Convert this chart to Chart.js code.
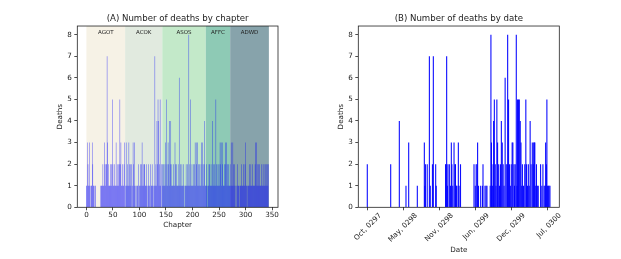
<!DOCTYPE html>
<html>
<head>
<meta charset="utf-8">
<script src="https://cdn.jsdelivr.net/npm/chart.js@4.4.1/dist/chart.umd.min.js"></script>
<style>
  html, body { margin: 0; padding: 0; background: #fff; }
  #wrap { position: relative; width: 621px; height: 259px; }
  canvas { position: absolute; top: 0; }
</style>
</head>
<body>
<div id="wrap">
  <canvas id="byChapter" width="300" height="259" style="left:0"></canvas>
  <canvas id="byDate" width="300" height="259" style="left:300px"></canvas>
</div>
<script>
// ---- data: deaths per chapter, one array per book ----
const books = ["AGOT", "ACOK", "ASOS", "AFFC", "ADWD"];
const agotDeaths = [
  1,1,3,2,1,1,3,1,0,1, 1,3,2,1,1,0,1,1,0,0, 0,0,0,0,0,0,0,1,1,1,
  1,2,1,1,3,2,1,2,2,7, 3,1,2,1,1,2,1,2,1,5, 2,1,1,2,1,1,3,1,2,1,
  2,1,2,5,2,3,1,1,2,1, 1,2,3
];
const acokDeaths = [
  0,1,3,1,2,1,1,3,2,1, 2,1,2,0,1,3,2,1,3,1, 0,1,0,1,1,2,0,1,1,2,
  1,2,3,1,2,1,2,2,1,1, 2,1,0,1,2,1,1,0,2,1, 1,2,1,1,0,1,7,1,2,1,
  4,2,5,4,1,2,5,1,2,0
];
const asosDeaths = [
  2,1,2,1,1,2,3,1,5,2, 1,3,2,1,4,2,4,1,2,1, 1,2,1,1,3,2,1,2,1,1,
  2,1,6,1,2,1,1,2,1,1, 2,1,0,1,1,2,1,1,2,1, 8,1,2,5,1,1,2,1,1,2,
  1,2,3,1,3,2,3,1,2,1, 2,1,1,2,3,1,3,2,1,2,4,1
];
const affcDeaths = [
  1,2,1,0,1,1,2,2,1,1, 2,1,1,4,2,1,2,1,1,5, 2,1,1,2,1,2,1,3,2,3,
  1,3,2,1,1,2,1,3,2,3, 1,2,1,2,1,1
];
const adwdDeaths = [
  2,1,3,1,1,3,2,1,2,1, 0,1,0,1,2,1,1,1,0,1, 1,2,1,1,1,2,1,1,2,3,
  1,1,0,1,1,1,2,1,1,2, 1,1,2,1,1,1,1,2,3,1, 3,2,1,2,1,2,1,1,1,2,
  1,1,2,1,2,1,1,2,1,2,2,1,2
];
const bookDeaths = [agotDeaths, acokDeaths, asosDeaths, affcDeaths, adwdDeaths];
const chapterTicks = [0, 50, 100, 150, 200, 250, 300, 350];
const deathTicks = [0, 1, 2, 3, 4, 5, 6, 7, 8];

// ---- data: deaths by date (days from first tick) ----
const dateDays = [
  0, 130, 178, 215, 230, 278, 317, 320, 323, 333, 345, 350, 362, 367, 380, 383,
  435, 438, 441, 445, 448, 456, 462, 467, 470, 475, 482, 487, 490, 495, 498,
  506, 510, 518, 593, 600, 605, 610, 613, 618, 630, 640, 643, 654, 660, 665,
  683, 687, 690, 695, 699, 702, 706, 711, 715, 720, 724, 730, 735, 740, 745,
  750, 755, 760, 766, 772, 778, 780, 785, 790, 795, 800, 805, 809, 815, 818,
  822, 828, 832, 835, 840, 845, 850, 854, 858, 862, 868, 875, 881, 885, 890,
  895, 900, 905, 910, 917, 922, 925, 928, 931, 936, 940, 945, 950, 963, 970,
  976, 983, 988, 991, 995, 998, 1002, 1006, 1010, 1015
];
const dateDeaths = [
  2, 2, 4, 1, 3, 1, 3, 1, 2, 2, 7, 1, 2, 7, 2, 1,
  2, 2, 7, 1, 2, 2, 1, 3, 2, 1, 3, 2, 2, 1, 1,
  3, 1, 2, 2, 1, 2, 2, 3, 1, 1, 1, 2, 1, 1, 1,
  1, 8, 3, 1, 2, 4, 5, 2, 1, 5, 3, 2, 1, 2, 4,
  3, 2, 1, 6, 2, 2, 8, 5, 2, 1, 2, 3, 3, 2, 1,
  2, 8, 1, 5, 5, 5, 4, 3, 1, 2, 1, 2, 5, 2, 1,
  2, 1, 4, 2, 3, 2, 3, 3, 3, 1, 2, 1, 1, 2, 1,
  2, 1, 1, 3, 2, 5, 1, 1, 1, 1
];
const dateTicks = [0, 200, 400, 600, 800, 1000];
const dateTickLabels = ["Oct, 0297", "May, 0298", "Nov, 0298", "Jun, 0299", "Dec, 0299", "Jul, 0300"];

const bookColors = ["#f6f2e6", "#e1eadf", "#c3e9c9", "#8ecab5", "#87a3ab"];
const ink = "#222";

Chart.defaults.font.family = "'DejaVu Sans', sans-serif";
Chart.defaults.color = ink;
Chart.defaults.animation = false;

// box around the plot area (matplotlib spines)
const frame = {
  id: "frame",
  afterDatasetsDraw(chart) {
    const { ctx, chartArea: a } = chart;
    ctx.save();
    ctx.strokeStyle = ink;
    ctx.lineWidth = 0.8;
    ctx.strokeRect(a.left, a.top, a.right - a.left, a.bottom - a.top);
    ctx.restore();
  },
};

// coloured span + label for each book
const bookBands = {
  id: "bookBands",
  beforeDatasetsDraw(chart) {
    const { ctx, chartArea: a, scales: { x } } = chart;
    ctx.save();
    let start = 0;
    bookDeaths.forEach((arr, i) => {
      const x0 = x.getPixelForValue(start);
      const x1 = x.getPixelForValue(start + arr.length);
      ctx.fillStyle = bookColors[i];
      ctx.fillRect(x0, a.top, x1 - x0, a.bottom - a.top);
      ctx.fillStyle = ink;
      ctx.font = "5.5px 'DejaVu Sans'";
      ctx.textAlign = "center";
      ctx.textBaseline = "middle";
      ctx.fillText(books[i], (x0 + x1) / 2, a.top + 7);
      start += arr.length;
    });
    ctx.restore();
  },
};

const tickGrid = { offset: false, drawOnChartArea: false, drawTicks: true, tickLength: 3, color: ink, lineWidth: 0.8 };

function yAxis() {
  return {
    min: 0,
    max: 8.4,
    afterBuildTicks: (s) => { s.ticks = deathTicks.map((v) => ({ value: v })); },
    afterFit: (s) => { s.width = 27.3; },
    grid: tickGrid,
    border: { display: false },
    ticks: { font: { size: 7.2 }, color: ink, padding: 2.5 },
    title: { display: true, text: "Deaths", font: { size: 7.2 }, color: ink, padding: { top: 5.7, bottom: 0 } },
  };
}

// (A) deaths by chapter
const chapterPoints = [].concat(...bookDeaths).map((v, i) => ({ x: i, y: v }));
new Chart(document.getElementById("byChapter"), {
  type: "bar",
  data: {
    datasets: [{
      data: chapterPoints,
      backgroundColor: "rgba(0,0,255,0.6)",
      borderWidth: 0,
      inflateAmount: 0,
      barPercentage: 1,
      categoryPercentage: 1,
    }],
  },
  options: {
    responsive: false,
    layout: { padding: { left: 50, right: 22, top: 0, bottom: 0 } },
    plugins: {
      legend: { display: false },
      tooltip: { enabled: false },
      title: {
        display: true, text: "(A) Number of deaths by chapter", fullSize: false,
        font: { size: 8.6, weight: "normal" }, color: ink, padding: { top: 13.3, bottom: 2.4 },
      },
    },
    scales: {
      x: {
        type: "linear", min: -17.2, max: 361.2, offset: false,
        afterBuildTicks: (s) => { s.ticks = chapterTicks.map((v) => ({ value: v })); },
        afterFit: (s) => { s.height = 51.7; },
        grid: tickGrid,
        border: { display: false },
        ticks: { font: { size: 7.2 }, color: ink, padding: 1, maxRotation: 0, autoSkip: false },
        title: { display: true, text: "Chapter", font: { size: 7.2 }, color: ink, padding: { top: 0, bottom: 29.2 } },
      },
      y: yAxis(),
    },
  },
  plugins: [bookBands, frame],
});

// (B) deaths by date
const datePoints = dateDays.map((d, i) => ({ x: d, y: dateDeaths[i] }));
new Chart(document.getElementById("byDate"), {
  type: "bar",
  data: {
    datasets: [{
      data: datePoints,
      backgroundColor: "rgba(0,0,255,0.95)",
      borderWidth: 0,
      inflateAmount: 0,
      barThickness: 1.1,
    }],
  },
  options: {
    responsive: false,
    layout: { padding: { left: 31, right: 40.7, top: 0, bottom: 0 } },
    plugins: {
      legend: { display: false },
      tooltip: { enabled: false },
      title: {
        display: true, text: "(B) Number of deaths by date", fullSize: false,
        font: { size: 8.6, weight: "normal" }, color: ink, padding: { top: 13.3, bottom: 2.4 },
      },
    },
    scales: {
      x: {
        type: "linear", min: -50, max: 1067, offset: false,
        afterBuildTicks: (s) => { s.ticks = dateTicks.map((v) => ({ value: v })); },
        afterFit: (s) => { s.height = 51.7; },
        grid: tickGrid,
        border: { display: false },
        ticks: {
          font: { size: 7.2 }, color: ink, padding: 1, autoSkip: false,
          minRotation: 45, maxRotation: 45, labelOffset: 13,
          callback: (v) => dateTickLabels[dateTicks.indexOf(v)],
        },
        title: { display: true, text: "Date", font: { size: 7.2 }, color: ink, padding: { top: 0, bottom: 4.7 } },
      },
      y: yAxis(),
    },
  },
  plugins: [frame],
});
</script>
</body>
</html>
